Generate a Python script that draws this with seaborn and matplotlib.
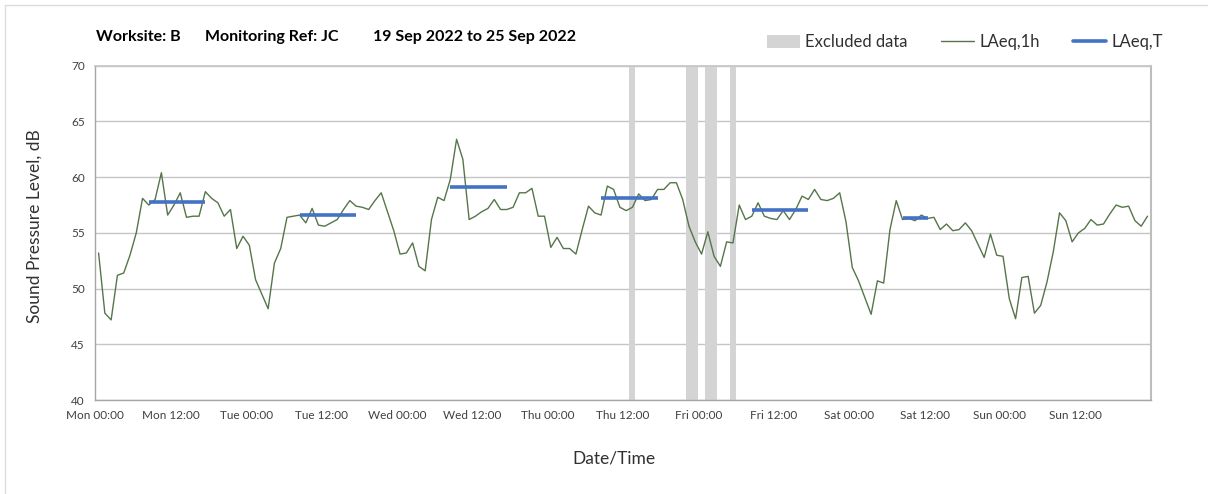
import numpy as np
import pandas as pd
import matplotlib
matplotlib.use("Agg")
import matplotlib.pyplot as plt
import seaborn as sns
from matplotlib.patches import Patch
from matplotlib.lines import Line2D

# hourly LAeq,1h values, one list per day (00:00 .. 23:00)
mon = [53.2, 47.8, 47.2, 51.2, 51.4, 53.0, 55.0, 58.1, 57.5, 58.0, 60.4, 56.6,
       57.5, 58.6, 56.4, 56.5, 56.5, 58.7, 58.1, 57.7, 56.5, 57.1, 53.6, 54.7]
tue = [53.9, 50.8, 49.5, 48.2, 52.3, 53.6, 56.4, 56.5, 56.6, 55.9, 57.2, 55.7,
       55.6, 55.9, 56.2, 57.1, 57.9, 57.4, 57.3, 57.1, 57.9, 58.6, 56.9, 55.2]
wed = [53.1, 53.2, 54.1, 52.0, 51.6, 56.2, 58.2, 57.9, 59.8, 63.4, 61.6, 56.2,
       56.5, 56.9, 57.2, 58.0, 57.1, 57.1, 57.3, 58.6, 58.6, 59.0, 56.5, 56.5]
thu = [53.7, 54.6, 53.6, 53.6, 53.1, 55.3, 57.4, 56.8, 56.6, 59.2, 58.9, 57.3,
       57.0, 57.3, 58.5, 57.9, 58.0, 58.9, 58.9, 59.5, 59.5, 58.0, 55.6, 54.2]
fri = [53.1, 55.1, 52.9, 52.0, 54.2, 54.1, 57.5, 56.2, 56.5, 57.7, 56.5, 56.3,
       56.2, 57.0, 56.2, 57.1, 58.3, 58.0, 58.9, 58.0, 57.9, 58.1, 58.6, 56.0]
sat = [51.9, 50.7, 49.2, 47.7, 50.7, 50.5, 55.3, 57.9, 56.2, 56.3, 56.1, 56.6,
       56.3, 56.4, 55.3, 55.8, 55.2, 55.3, 55.9, 55.2, 54.0, 52.8, 54.9, 53.0]
sun = [52.9, 49.1, 47.3, 51.0, 51.1, 47.8, 48.5, 50.6, 53.3, 56.8, 56.1, 54.2,
       55.0, 55.4, 56.2, 55.7, 55.8, 56.7, 57.5, 57.3, 57.4, 56.1, 55.6, 56.5]
laeq_1h = mon + tue + wed + thu + fri + sat + sun

# hours (from Mon 00:00) flagged as excluded
excluded_hours = [85, 94, 95, 97, 98, 101]

# LAeq,T over the daytime periods (first and last hour of each period)
period_start = [8, 32, 56, 80, 104, 128]
period_end = [17, 41, 65, 89, 113, 132]
laeq_t = [57.8, 56.6, 59.1, 58.1, 57.1, 56.3]

tick_labels = ["Mon 00:00", "Mon 12:00", "Tue 00:00", "Tue 12:00", "Wed 00:00",
               "Wed 12:00", "Thu 00:00", "Thu 12:00", "Fri 00:00", "Fri 12:00",
               "Sat 00:00", "Sat 12:00", "Sun 00:00", "Sun 12:00", ""]

title_parts = ["Worksite: B", "Monitoring Ref: JC", "19 Sep 2022 to 25 Sep 2022"]

sns.set_theme(style="white")
plt.rcParams["font.family"] = ["Lato", "DejaVu Sans"]

green = "#56754a"
blue = "#4472c4"
grey_band = "#d4d4d4"

fig = plt.figure(figsize=(12.08, 4.94), dpi=100)
ax = fig.add_axes([0.079, 0.19, 0.8735, 0.677])

df = pd.DataFrame({"hour": np.arange(len(laeq_1h)) + 0.5, "LAeq,1h": laeq_1h})

# excluded data bands
ax.bar(np.array(excluded_hours) + 0.5, 30, bottom=40, width=0.95,
       color=grey_band, linewidth=0, zorder=1)

sns.lineplot(data=df, x="hour", y="LAeq,1h", ax=ax, color=green,
             linewidth=1.0, zorder=3)

for s, e, v in zip(period_start, period_end, laeq_t):
    hrs = np.arange(s, e + 1) + 0.5
    sns.lineplot(x=hrs, y=[v] * len(hrs), ax=ax, color=blue, linewidth=2.6,
                 zorder=4, solid_capstyle="butt")

ax.set_xlim(0, 168)
ax.set_ylim(40, 70)
ax.set_xticks(np.arange(0, 169, 12))
ax.set_xticklabels(tick_labels)
ax.set_xticks(np.arange(24, 169, 24), minor=True)
ax.set_yticks(np.arange(40, 71, 5))

ax.grid(axis="y", which="major", color="#c6c6c6", linewidth=1.0, zorder=0)
ax.grid(axis="x", which="minor", color="#dedede", linewidth=1.0, zorder=0)
ax.grid(axis="x", which="major", visible=False)
ax.set_axisbelow(True)

for side in ["left", "bottom"]:
    ax.spines[side].set_color("#a6a6a6")
    ax.spines[side].set_linewidth(1.0)
ax.spines["top"].set_color("#c6c6c6")
ax.spines["right"].set_color("#bdbdbd")
ax.spines["right"].set_linewidth(1.5)

ax.tick_params(axis="both", which="major", direction="out", length=4,
               width=0.8, color="#a6a6a6", labelsize=8.5, labelcolor="#404040")
ax.tick_params(axis="x", which="minor", length=0)
ax.tick_params(axis="x", pad=3)
ax.set_xlabel("")
ax.set_ylabel("")

fig.text(35 / 1208, 1 - 226 / 494, "Sound Pressure Level, dB", rotation=90,
         ha="center", va="center", fontsize=12.5, color="#303030")
fig.text(614 / 1208, 1 - 458 / 494, "Date/Time", ha="center", va="center",
         fontsize=12.5, color="#303030")

# title pieces, spaced as in the original header
for x_px, part in zip([96, 205, 373], title_parts):
    fig.text(x_px / 1208, 1 - 37 / 494, part, ha="left", va="center",
             fontsize=11.5, fontweight="bold", color="black")

handles = [Patch(facecolor=grey_band, edgecolor="none", label="Excluded data"),
           Line2D([0], [0], color=green, linewidth=1.0, label="LAeq,1h"),
           Line2D([0], [0], color=blue, linewidth=2.6, label="LAeq,T")]
fig.legend(handles=handles, loc="center right",
           bbox_to_anchor=(1178 / 1208, 1 - 42 / 494), ncol=3, frameon=False,
           fontsize=12, handlelength=2.0, handleheight=0.8,
           columnspacing=2.0, handletextpad=0.3, labelcolor="#303030")

# outer chart border (left and top edges)
fig.add_artist(Line2D([5 / 1208, 5 / 1208], [0, 1 - 5 / 494],
                      transform=fig.transFigure, color="#dcdcdc", linewidth=1))
fig.add_artist(Line2D([5 / 1208, 1], [1 - 5 / 494, 1 - 5 / 494],
                      transform=fig.transFigure, color="#dcdcdc", linewidth=1))

fig.savefig("out.png", dpi=100)
